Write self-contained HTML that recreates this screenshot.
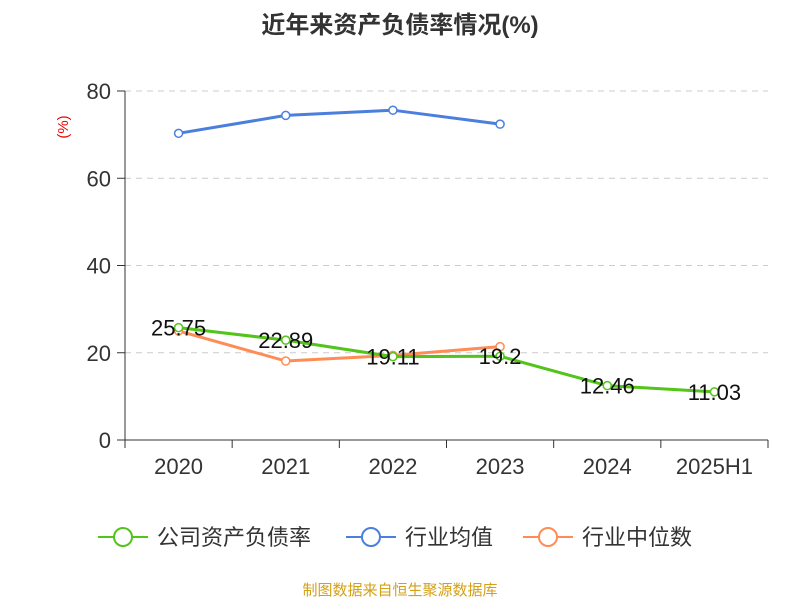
<!DOCTYPE html>
<html><head><meta charset="utf-8"><style>
body{margin:0;background:#fff;font-family:"Liberation Sans","Noto Sans CJK SC",sans-serif}
</style></head><body>
<svg id="c" width="800" height="600" xmlns="http://www.w3.org/2000/svg" font-family="Liberation Sans, Noto Sans CJK SC, sans-serif">
<text x="400" y="33" text-anchor="middle" font-size="24" font-weight="bold" fill="#333">近年来资产负债率情况(%)</text>
<text x="68" y="127" font-size="15" fill="#e00" transform="rotate(-90 68 127)" text-anchor="middle">(%)</text>
<g id="grid"></g><g id="axes"></g><g id="series"></g>
<g font-size="22" fill="#333">
<g><line x1="98" y1="537" x2="148" y2="537" stroke="#52c41a" stroke-width="2"/><circle cx="123" cy="537" r="9" fill="#fff" stroke="#52c41a" stroke-width="2"/><text x="157" y="545">公司资产负债率</text></g>
<g><line x1="346" y1="537" x2="396" y2="537" stroke="#4a7fdd" stroke-width="2"/><circle cx="371" cy="537" r="9" fill="#fff" stroke="#4a7fdd" stroke-width="2"/><text x="405" y="545">行业均值</text></g>
<g><line x1="523" y1="537" x2="573" y2="537" stroke="#ff8c55" stroke-width="2"/><circle cx="548" cy="537" r="9" fill="#fff" stroke="#ff8c55" stroke-width="2"/><text x="582" y="545">行业中位数</text></g>
</g>
<text x="400" y="595" text-anchor="middle" font-size="15" fill="#d4a017">制图数据来自恒生聚源数据库</text>
</svg>
<script>
const categories=["2020","2021","2022","2023","2024","2025H1"];
const company=[25.75,22.89,19.11,19.2,12.46,11.03];
const industryAvg=[70.3,74.4,75.6,72.4];
const industryMedian=[25.0,18.1,19.4,21.4];
const yTicks=[0,20,40,60,80];
const NS="http://www.w3.org/2000/svg";
const L=125,R=768,T=91,B=440,bw=(R-L)/categories.length;
const x=i=>L+bw*(i+0.5), y=v=>B-(v/80)*(B-T);
function mk(p,tag,a){const e=document.createElementNS(NS,tag);for(const k in a)e.setAttribute(k,a[k]);p.appendChild(e);return e;}
const grid=document.getElementById('grid'),axes=document.getElementById('axes'),ser=document.getElementById('series');
yTicks.forEach(t=>{
 if(t>0){const g=mk(grid,'line',{x1:L,x2:R,y1:y(t),y2:y(t),stroke:'#ccc','stroke-dasharray':'6,5'});
 }
 const tk=mk(axes,'line',{x1:L-8,x2:L,y1:y(t),y2:y(t),stroke:'#333'});
 
 const tx=mk(axes,'text',{x:L-14,y:y(t)+8,'text-anchor':'end','font-size':22,fill:'#333'});tx.textContent=t;
 
});
const ya=mk(axes,'line',{x1:L,x2:L,y1:T,y2:B,stroke:'#333'});
const xa=mk(axes,'line',{x1:L,x2:R,y1:B,y2:B,stroke:'#333'});
for(let i=0;i<=categories.length;i++){const t=mk(axes,'line',{x1:L+bw*i,x2:L+bw*i,y1:B,y2:B+8,stroke:'#333'});}
categories.forEach((c,i)=>{const t=mk(axes,'text',{x:x(i),y:B+34,'text-anchor':'middle','font-size':22,fill:'#333'});t.textContent=c;
 });
function line(vals,color,name,labels){
 const g=mk(ser,'g',{});
 const p=mk(g,'polyline',{points:vals.map((v,i)=>x(i)+','+y(v)).join(' '),fill:'none',stroke:color,'stroke-width':3});
 
 vals.forEach((v,i)=>{const c=mk(g,'circle',{cx:x(i),cy:y(v),r:4,fill:'#fff',stroke:color,'stroke-width':1.5});
  
  if(labels){const t=mk(g,'text',{x:x(i),y:y(v)+8,'text-anchor':'middle','font-size':22,fill:'#111'});t.textContent=v;
  }});
}
line(industryAvg,'#4a7fdd','industry-avg-series',false);
line(industryMedian,'#ff8c55','industry-median-series',false);
line(company,'#52c41a','company-series',true);
</script>
</body></html>
